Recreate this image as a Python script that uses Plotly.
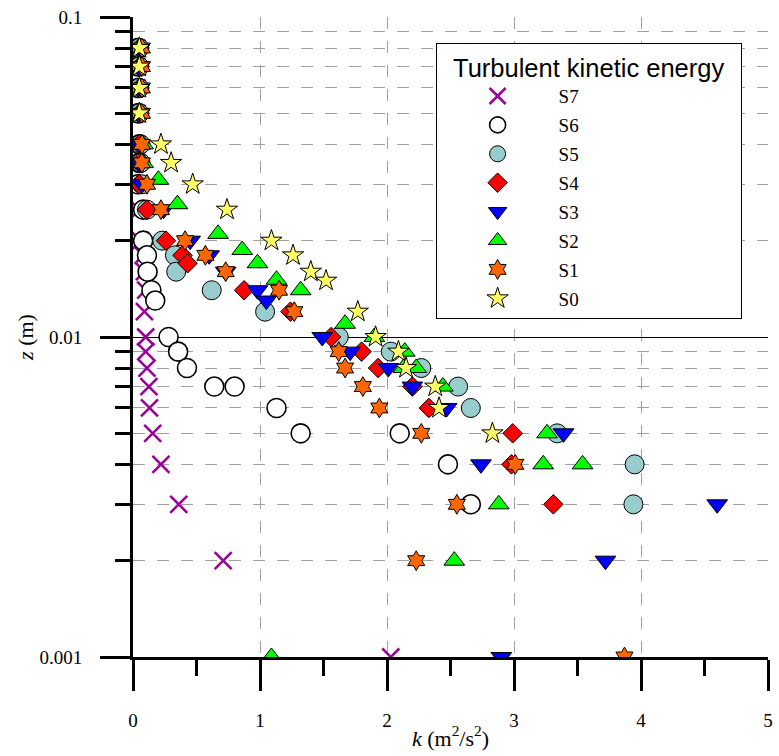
import plotly.graph_objects as go

# ---------------- data (k in m2/s2, z in m) ----------------
z_S7 = [0.08, 0.07, 0.06, 0.05, 0.04, 0.035, 0.03, 0.025, 0.02, 0.018, 0.016, 0.014, 0.012, 0.01, 0.009, 0.008, 0.007, 0.006, 0.005, 0.004, 0.003, 0.002, 0.001]
k_S7 = [0.03, 0.03, 0.03, 0.03, 0.03, 0.03, 0.03, 0.05, 0.06, 0.08, 0.09, 0.10, 0.09, 0.10, 0.10, 0.11, 0.125, 0.13, 0.155, 0.22, 0.36, 0.71, 2.03]

z_S6 = [0.08, 0.07, 0.06, 0.05, 0.04, 0.035, 0.03, 0.025, 0.02, 0.018, 0.016, 0.014, 0.013, 0.01, 0.009, 0.008, 0.007, 0.007, 0.006, 0.005, 0.005, 0.004, 0.003]
k_S6 = [0.04, 0.04, 0.04, 0.04, 0.05, 0.05, 0.04, 0.08, 0.08, 0.11, 0.115, 0.145, 0.175, 0.28, 0.355, 0.425, 0.64, 0.80, 1.13, 1.32, 2.10, 2.48, 2.66]

z_S5 = [0.08, 0.07, 0.06, 0.05, 0.04, 0.035, 0.03, 0.025, 0.02, 0.018, 0.016, 0.014, 0.012, 0.01, 0.009, 0.008, 0.007, 0.006, 0.005, 0.004, 0.003]
k_S5 = [0.05, 0.05, 0.05, 0.05, 0.06, 0.06, 0.07, 0.11, 0.23, 0.33, 0.34, 0.62, 1.04, 1.62, 2.03, 2.27, 2.56, 2.66, 3.34, 3.95, 3.94]

z_S4 = [0.08, 0.07, 0.06, 0.05, 0.04, 0.035, 0.03, 0.025, 0.02, 0.018, 0.017, 0.014, 0.012, 0.01, 0.009, 0.008, 0.007, 0.006, 0.005, 0.004, 0.003]
k_S4 = [0.05, 0.05, 0.05, 0.05, 0.05, 0.05, 0.05, 0.11, 0.26, 0.39, 0.43, 0.875, 1.24, 1.56, 1.80, 1.93, 2.20, 2.33, 2.99, 2.98, 3.31]

z_S3 = [0.08, 0.07, 0.06, 0.05, 0.04, 0.035, 0.03, 0.025, 0.02, 0.018, 0.016, 0.014, 0.013, 0.01, 0.009, 0.008, 0.007, 0.006, 0.005, 0.004, 0.003, 0.002, 0.001]
k_S3 = [0.04, 0.04, 0.04, 0.04, 0.05, 0.05, 0.07, 0.24, 0.45, 0.60, 0.73, 0.98, 1.05, 1.49, 1.71, 2.01, 2.20, 2.47, 3.39, 2.74, 4.60, 3.72, 2.90]

z_S2 = [0.08, 0.07, 0.06, 0.05, 0.04, 0.035, 0.031, 0.026, 0.021, 0.0187, 0.017, 0.0151, 0.014, 0.011, 0.010, 0.009, 0.008, 0.008, 0.007, 0.005, 0.004, 0.004, 0.003, 0.002, 0.001]
k_S2 = [0.05, 0.05, 0.05, 0.05, 0.08, 0.08, 0.20, 0.35, 0.67, 0.86, 0.98, 1.13, 1.32, 1.67, 1.90, 2.14, 2.13, 2.23, 2.44, 3.26, 3.23, 3.54, 2.88, 2.53, 1.09]

z_S1 = [0.08, 0.07, 0.06, 0.05, 0.04, 0.035, 0.03, 0.025, 0.02, 0.018, 0.016, 0.014, 0.012, 0.009, 0.008, 0.007, 0.006, 0.005, 0.004, 0.003, 0.002, 0.001]
k_S1 = [0.07, 0.07, 0.07, 0.07, 0.07, 0.07, 0.11, 0.22, 0.41, 0.57, 0.73, 1.15, 1.27, 1.62, 1.67, 1.81, 1.94, 2.27, 3.01, 2.55, 2.23, 3.87]

z_S0 = [0.08, 0.07, 0.06, 0.05, 0.04, 0.035, 0.03, 0.025, 0.02, 0.018, 0.016, 0.015, 0.012, 0.01, 0.009, 0.008, 0.007, 0.006, 0.005]
k_S0 = [0.05, 0.05, 0.05, 0.05, 0.22, 0.30, 0.47, 0.74, 1.09, 1.26, 1.40, 1.52, 1.77, 1.91, 2.09, 2.15, 2.38, 2.41, 2.83]

x_ticks = [0, 1, 2, 3, 4, 5]
x_minor = [0.5, 1.5, 2.5, 3.5, 4.5]
y_ticks = [0.001, 0.01, 0.1]
y_ticktext = ["0.001", "0.01", "0.1"]
y_minor = [0.002, 0.003, 0.004, 0.005, 0.006, 0.007, 0.008, 0.009,
           0.02, 0.03, 0.04, 0.05, 0.06, 0.07, 0.08, 0.09]

series = [
    ("S7", k_S7, z_S7, "x-thin", "#990099", 17, 2.5),
    ("S6", k_S6, z_S6, "circle", "#FFFFFF", 19, 1.6),
    ("S5", k_S5, z_S5, "circle", "#99CCCC", 19, 1.0),
    ("S4", k_S4, z_S4, "diamond", "#FF0000", 15, 1.0),
    ("S3", k_S3, z_S3, "triangle-down", "#0000FF", 18, 1.0),
    ("S2", k_S2, z_S2, "triangle-up", "#00FF00", 18, 1.0),
    ("S1", k_S1, z_S1, "hexagram", "#FF6600", 15, 1.0),
    ("S0", k_S0, z_S0, "star", "#FFFF66", 16, 1.0),
]

SERIF = "Times New Roman, Liberation Serif, DejaVu Serif, serif"
SANS = "Arial, Liberation Sans, sans-serif"

fig = go.Figure()
for name, kx, zy, sym, col, sz, lw in series:
    line_col = col if sym == "x-thin" else "black"
    fig.add_trace(go.Scatter(
        x=kx, y=zy, mode="markers", name=name, legendgroup=name,
        marker=dict(symbol=sym, color=col, size=sz,
                    line=dict(color=line_col, width=lw)),
    ))

fig.update_layout(
    width=779, height=756,
    margin=dict(l=133, r=6, t=17, b=99),
    plot_bgcolor="white", paper_bgcolor="white",
    font=dict(family=SERIF, size=19, color="black"),
    showlegend=True,
    legend=dict(
        x=(438 - 133) / 640, y=(657 - 43) / 640, xanchor="left", yanchor="top",
        bgcolor="white", bordercolor="black", borderwidth=1,
        font=dict(family=SERIF, size=19, color="black"),
        title=dict(text="&nbsp;&nbsp;Turbulent kinetic energy&nbsp;&nbsp;", side="top center",
                   font=dict(family=SANS, size=25.5, color="black")),
        itemwidth=112, tracegroupgap=1.2, itemsizing="trace",
    ),
    xaxis=dict(
        range=[0, 5], tickmode="array", tickvals=x_ticks,
        ticks="outside", ticklen=31, tickwidth=3, tickcolor="black",
        showline=True, linewidth=3, linecolor="black",
        showgrid=True, gridcolor="#A0A0A0", gridwidth=1, griddash="12px,12px",
        zeroline=False,
        minor=dict(tickmode="array", tickvals=x_minor, ticks="outside",
                   ticklen=16, tickwidth=3, tickcolor="black", showgrid=False),
        tickfont=dict(family=SERIF, size=19, color="black"),
        ticklabelstandoff=13,
        title=dict(text="<i>k</i> (m<sup>2</sup>/s<sup>2</sup>)",
                   font=dict(family=SERIF, size=22, color="black"), standoff=1),
    ),
    yaxis=dict(
        type="log", range=[-3, -1], tickmode="array", tickvals=y_ticks,
        ticktext=y_ticktext,
        ticks="outside", ticklen=30, tickwidth=3, tickcolor="black",
        showline=True, linewidth=3, linecolor="black",
        showgrid=True, gridcolor="black", gridwidth=1,
        zeroline=False,
        minor=dict(tickmode="array", tickvals=y_minor, ticks="outside",
                   ticklen=15, tickwidth=3, tickcolor="black",
                   showgrid=True, gridcolor="#A0A0A0", gridwidth=1,
                   griddash="12px,12px"),
        tickfont=dict(family=SERIF, size=19, color="black"),
        ticklabelstandoff=14,
        title=dict(text="<i>z</i> (m)",
                   font=dict(family=SERIF, size=22, color="black"), standoff=0),
    ),
)

fig.write_html("out.html")
